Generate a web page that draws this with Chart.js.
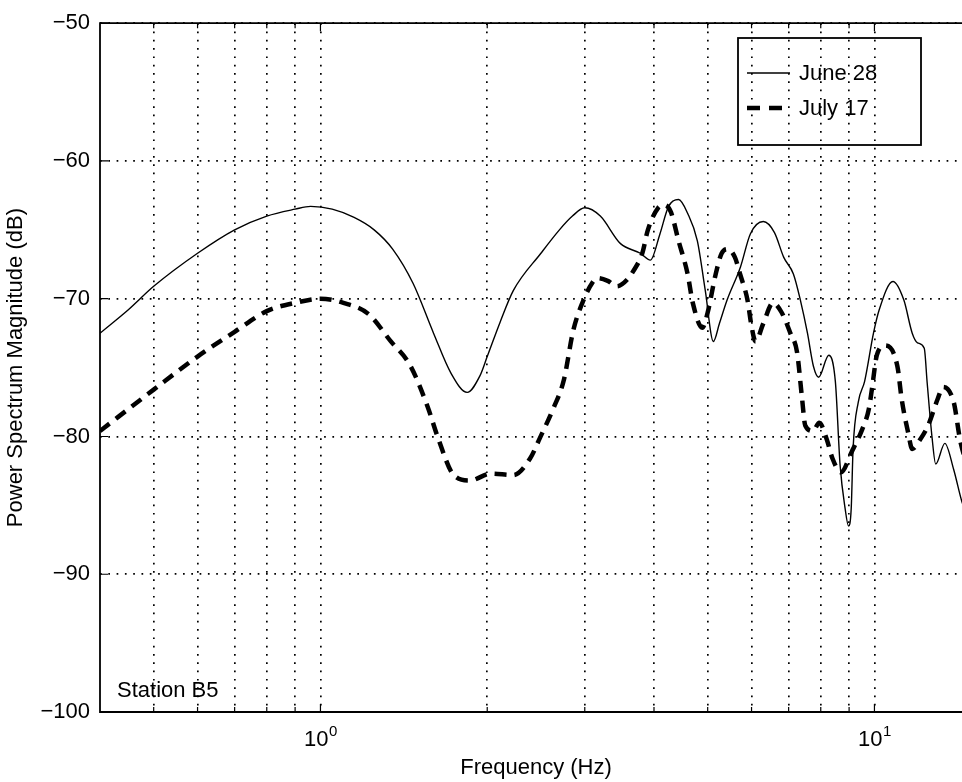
<!DOCTYPE html>
<html>
<head>
<meta charset="utf-8">
<script src="https://cdn.jsdelivr.net/npm/chart.js@4.4.1/dist/chart.umd.min.js"></script>
<style>
html,body{margin:0;padding:0;overflow:hidden;background:#fff;width:962px;height:782px;}
canvas{display:block;}
</style>
</head>
<body>
<canvas id="c" width="972" height="782"></canvas>
<script>
// ---- data ----
const seriesLabels = ['June 28', 'July 17'];
const juneFreq = [0.4,0.45,0.5,0.6,0.7,0.8,0.9,0.96,1.05,1.15,1.25,1.35,1.47,1.6,1.72,1.84,1.94,2.0,2.11,2.23,2.5,2.7,2.85,3.0,3.2,3.48,3.78,3.94,4.1,4.25,4.43,4.6,4.79,4.95,5.12,5.25,5.42,5.73,5.97,6.3,6.6,6.86,7.14,7.35,7.57,7.76,7.93,8.27,8.5,8.67,8.85,8.98,9.08,9.15,9.35,9.6,9.96,10.2,10.8,11.3,11.7,11.96,12.3,12.45,12.7,12.9,13.4,13.9,14.4,15.0];
const juneDb   = [-72.5,-70.8,-69.1,-66.7,-65.0,-64.0,-63.5,-63.3,-63.5,-64.1,-65.0,-66.4,-68.9,-72.5,-75.4,-76.8,-75.6,-74.2,-71.7,-69.4,-66.7,-65.0,-64.0,-63.4,-64.0,-66.0,-66.7,-67.2,-65.3,-63.3,-62.8,-63.8,-65.8,-69.4,-73.1,-71.8,-70.1,-67.7,-65.3,-64.4,-65.2,-67.0,-68.2,-70.1,-72.5,-74.9,-75.7,-74.1,-76.0,-82.1,-85.2,-86.5,-85.2,-80.9,-77.5,-76.0,-72.5,-70.8,-68.75,-70.1,-72.5,-73.2,-73.6,-76.1,-80.0,-82.0,-80.5,-82.4,-84.8,-86.5];
const julyFreq = [0.4,0.5,0.6,0.7,0.8,0.9,1.0,1.1,1.22,1.34,1.45,1.56,1.63,1.74,1.86,2.03,2.23,2.39,2.49,2.63,2.75,2.86,2.97,3.1,3.16,3.3,3.43,3.6,3.67,3.81,3.9,4.07,4.18,4.29,4.43,4.6,4.7,4.89,5.0,5.17,5.3,5.44,5.6,5.72,5.9,6.0,6.1,6.3,6.56,6.8,7.05,7.25,7.4,7.5,7.75,7.95,8.2,8.4,8.7,9.1,9.5,9.77,9.9,10.1,10.45,11.0,11.2,11.5,11.7,12.1,12.5,13.0,13.3,13.9,14.3,15.0];
const julyDb   = [-79.6,-76.6,-74.2,-72.4,-70.9,-70.3,-70.0,-70.3,-71.1,-73.1,-74.8,-77.8,-80.1,-82.8,-83.2,-82.7,-82.8,-81.6,-80.1,-78.0,-75.9,-72.3,-70.3,-68.8,-68.5,-68.7,-69.1,-68.5,-68.0,-66.7,-65.0,-63.4,-63.2,-63.7,-65.8,-68.2,-70.3,-72.1,-71.0,-68.2,-66.7,-66.4,-67.0,-68.2,-70.1,-72.0,-73.1,-71.8,-70.3,-71.0,-72.5,-73.9,-77.2,-79.2,-79.6,-79.0,-80.2,-81.6,-82.6,-81.1,-79.5,-78.0,-76.5,-74.1,-73.4,-74.9,-77.3,-79.7,-80.9,-80.2,-79.2,-77.3,-76.4,-77.5,-80.4,-83.0];
const xGridValues = [0.5,0.6,0.7,0.8,0.9,1,2,3,4,5,6,7,8,9,10];
const xMajorTicks = [1, 10];
const xTickBase = ['10', '10'];
const xTickExp = ['0', '1'];
const yTickValues = [-100,-90,-80,-70,-60,-50];
const annotationText = 'Station B5';

const FONT = '"Liberation Sans", Arial, Helvetica, sans-serif';

const toPts = (fs, ds) => fs.map((f, i) => ({x: f, y: ds[i]}));

const overlay = {
  id: 'overlay',
  afterDraw(chart) {
    const {ctx, chartArea: a, scales: {x, y}} = chart;
    ctx.save();
    ctx.setLineDash([]);
    ctx.strokeStyle = '#000';
    ctx.fillStyle = '#000';
    // frame
    ctx.lineWidth = 1.8;
    ctx.beginPath();
    ctx.moveTo(a.right + 5, a.top);
    ctx.lineTo(a.left, a.top);
    ctx.lineTo(a.left, a.bottom);
    ctx.lineTo(a.right + 5, a.bottom);
    ctx.stroke();
    // inner ticks
    ctx.lineWidth = 1.2;
    ctx.beginPath();
    xGridValues.forEach(v => {
      const px = x.getPixelForValue(v);
      const L = xMajorTicks.includes(v) ? 8 : 5;
      ctx.moveTo(px, a.bottom); ctx.lineTo(px, a.bottom - L);
      ctx.moveTo(px, a.top); ctx.lineTo(px, a.top + L);
    });
    yTickValues.forEach(v => {
      const py = y.getPixelForValue(v);
      ctx.moveTo(a.left, py); ctx.lineTo(a.left + 8, py);
    });
    ctx.stroke();
    // x tick labels with superscripts
    xMajorTicks.forEach((v, i) => {
      const px = x.getPixelForValue(v);
      ctx.font = '22px ' + FONT;
      const wb = ctx.measureText(xTickBase[i]).width;
      ctx.font = '15px ' + FONT;
      const we = ctx.measureText(xTickExp[i]).width;
      const x0 = px - (wb + we) / 2;
      ctx.textBaseline = 'alphabetic';
      ctx.textAlign = 'left';
      ctx.font = '22px ' + FONT;
      ctx.fillText(xTickBase[i], x0, a.bottom + 34);
      ctx.font = '15px ' + FONT;
      ctx.fillText(xTickExp[i], x0 + wb + 0.5, a.bottom + 24);
    });
    // annotation
    ctx.font = '22px ' + FONT;
    ctx.textAlign = 'left';
    ctx.textBaseline = 'alphabetic';
    ctx.fillText(annotationText, a.left + 17, a.bottom - 15);
    // legend
    const lx = 738, ly = 38, lw = 183, lh = 107;
    ctx.lineWidth = 1.8;
    ctx.strokeRect(lx, ly, lw, lh);
    const ds = chart.data.datasets;
    const rows = [73, 108];
    ds.forEach((d, i) => {
      ctx.save();
      ctx.lineWidth = d.borderWidth;
      ctx.setLineDash(i === 1 ? [13, 9] : []);
      ctx.lineCap = 'butt';
      ctx.beginPath();
      ctx.moveTo(747, rows[i]);
      ctx.lineTo(i === 1 ? 784 : 790, rows[i]);
      ctx.stroke();
      ctx.restore();
      ctx.font = '22px ' + FONT;
      ctx.textBaseline = 'middle';
      ctx.fillText(d.label, 799, rows[i] + 1);
    });
    ctx.restore();
  }
};

new Chart(document.getElementById('c'), {
  type: 'line',
  data: {
    datasets: [
      {label: seriesLabels[0], data: toPts(juneFreq, juneDb), borderColor: '#000', borderWidth: 1.4,
       pointRadius: 0, fill: false, cubicInterpolationMode: 'monotone'},
      {label: seriesLabels[1], data: toPts(julyFreq, julyDb), borderColor: '#000', borderWidth: 4.5,
       borderDash: [12, 8], borderCapStyle: 'butt', pointRadius: 0, fill: false, cubicInterpolationMode: 'monotone'}
    ]
  },
  options: {
    responsive: false,
    animation: false,
    events: [],
    layout: {padding: {top: 17, left: 0, right: 0, bottom: 0}},
    plugins: {legend: {display: false}, tooltip: {enabled: false}},
    scales: {
      x: {
        type: 'logarithmic', min: 0.4, max: 15,
        afterBuildTicks: s => { s.ticks = xGridValues.map(v => ({value: v})); },
        afterFit: s => { s.height = 70; },
        ticks: {callback: () => '', autoSkip: false, maxRotation: 0, font: {size: 22, family: FONT}},
        grid: {color: '#000', lineWidth: 1.7, drawTicks: false},
        border: {display: false, dash: [1.7, 6.6]},
        title: {display: true, text: 'Frequency (Hz)', color: '#000', font: {size: 22, family: FONT}, padding: {top: 0, bottom: 1}}
      },
      y: {
        type: 'linear', min: -100, max: -50,
        afterBuildTicks: s => { s.ticks = yTickValues.map(v => ({value: v})); },
        afterFit: s => { s.width = 100; },
        ticks: {color: '#000', padding: 10, font: {size: 22, family: FONT},
                callback: v => String(v).replace('-', '\u2212')},
        grid: {color: '#000', lineWidth: 1.7, drawTicks: false},
        border: {display: false, dash: [1.7, 6.6]},
        title: {display: true, text: 'Power Spectrum Magnitude (dB)', color: '#000', font: {size: 22, family: FONT}, padding: {top: 3, bottom: 0}}
      }
    }
  },
  plugins: [overlay]
});
</script>
</body>
</html>
